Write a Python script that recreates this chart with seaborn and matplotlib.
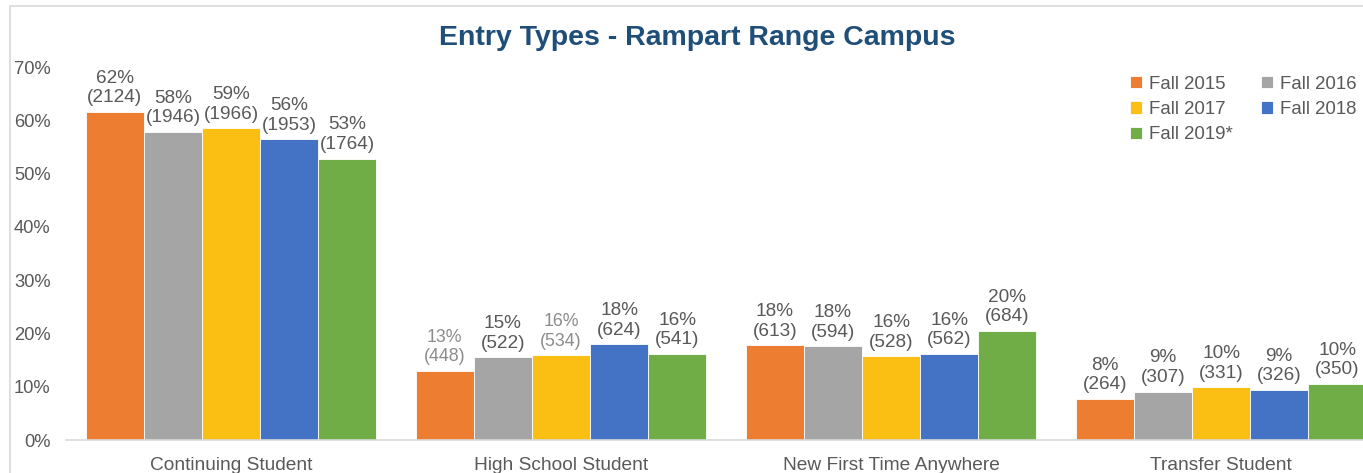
import pandas as pd
import numpy as np
import matplotlib
matplotlib.use("Agg")
import matplotlib.pyplot as plt
import seaborn as sns
from matplotlib.patches import Rectangle

categories = ["Continuing Student", "High School Student", "New First Time Anywhere", "Transfer Student"]
years = ["Fall 2015", "Fall 2016", "Fall 2017", "Fall 2018", "Fall 2019*"]
colors = ["#ED7D31", "#A5A5A5", "#FBBF14", "#4472C4", "#70AD47"]

# share of students (%) per year, in category order
pct_2015 = [61.6, 13.0, 17.8, 7.7]
pct_2016 = [57.8, 15.5, 17.6, 9.1]
pct_2017 = [58.5, 15.9, 15.7, 9.9]
pct_2018 = [56.4, 18.0, 16.2, 9.4]
pct_2019 = [52.8, 16.2, 20.5, 10.5]

cnt_2015 = [2124, 448, 613, 264]
cnt_2016 = [1946, 522, 594, 307]
cnt_2017 = [1966, 534, 528, 331]
cnt_2018 = [1953, 624, 562, 326]
cnt_2019 = [1764, 541, 684, 350]

lbl_2015 = ["62%", "13%", "18%", "8%"]
lbl_2016 = ["58%", "15%", "18%", "9%"]
lbl_2017 = ["59%", "16%", "16%", "10%"]
lbl_2018 = ["56%", "18%", "16%", "9%"]
lbl_2019 = ["53%", "16%", "20%", "10%"]

pcts = [pct_2015, pct_2016, pct_2017, pct_2018, pct_2019]
cnts = [cnt_2015, cnt_2016, cnt_2017, cnt_2018, cnt_2019]
lbls = [lbl_2015, lbl_2016, lbl_2017, lbl_2018, lbl_2019]

rows = []
for y, p in zip(years, pcts):
    for c, v in zip(categories, p):
        rows.append({"category": c, "year": y, "pct": v})
df = pd.DataFrame(rows)

sns.set_style("white")
plt.rcParams["font.family"] = ["Liberation Sans", "DejaVu Sans"]

fig = plt.figure(figsize=(13.63, 4.73), dpi=100)
# chart frame
fig.patches.append(Rectangle((10 / 1363, -0.1), 1.2, 1 - 6 / 473 + 0.1, transform=fig.transFigure,
                             fill=False, edgecolor="#D9D9D9", linewidth=1.2))
ax = fig.add_axes([66 / 1363, 33 / 473, 1320 / 1363, 373 / 473])

sns.barplot(data=df, x="category", y="pct", hue="year", palette=colors, width=0.88,
            saturation=1, edgecolor="white", linewidth=0.6, ax=ax, legend=True)

ax.set_xlim(-0.5, 3.5)
ax.set_ylim(0, 70)
ax.set_yticks(range(0, 71, 10))
ax.set_yticklabels([f"{t}%" for t in range(0, 71, 10)])
ax.set_xlabel("")
ax.set_ylabel("")
ax.tick_params(axis="both", length=0, labelsize=13.8, labelcolor="#595959")
ax.tick_params(axis="y", pad=11, labelsize=13.2)
ax.tick_params(axis="x", pad=12)
for s in ["top", "right", "left"]:
    ax.spines[s].set_visible(False)
ax.spines["bottom"].set_color("#D9D9D9")
ax.spines["bottom"].set_linewidth(1.2)

# data labels
faded = {(0, 1), (2, 1)}
for i, cont in enumerate(ax.containers):
    labels = [f"{lbls[i][j]}\n({cnts[i][j]})" for j in range(len(categories))]
    texts = ax.bar_label(cont, labels=labels, padding=4, fontsize=13.7, color="#595959",
                         linespacing=1.2)
    for j, t in enumerate(texts):
        if (i, j) in faded:
            t.set_color("#8C8C8C")
            t.set_fontsize(12.8)

fig.text(697 / 1363, 1 - 38 / 473, "Entry Types - Rampart Range Campus", ha="center", va="center",
         fontsize=20.5, fontweight="bold", color="#1F4E79")

handles, labels = ax.get_legend_handles_labels()
order = [0, 2, 4, 1, 3]
ax.legend([handles[k] for k in order], [labels[k] for k in order], ncol=2, frameon=False,
          loc="upper left", bbox_to_anchor=(1113 / 1363, 1 - 59 / 473), bbox_transform=fig.transFigure,
          fontsize=13.4, labelcolor="#595959", handlelength=0.65, handleheight=0.65,
          handletextpad=0.4, columnspacing=1.5, labelspacing=0.45)

fig.savefig("out.png", dpi=100)
